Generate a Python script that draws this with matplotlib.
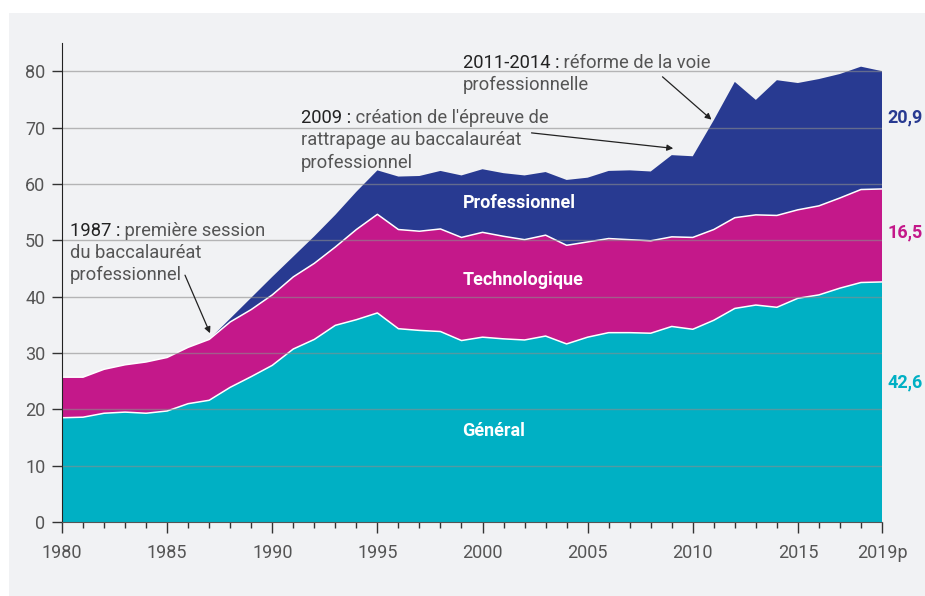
import numpy as np
import matplotlib
matplotlib.use("Agg")
import matplotlib.pyplot as plt
from matplotlib.patches import Rectangle

# data
years = list(range(1980, 2020))
general = [18.5, 18.6, 19.3, 19.5, 19.3, 19.7, 21.0, 21.6, 23.9, 25.8,
           27.8, 30.7, 32.4, 34.9, 35.9, 37.1, 34.3, 34.0, 33.8, 32.2,
           32.8, 32.5, 32.3, 33.0, 31.6, 32.8, 33.6, 33.6, 33.5, 34.7,
           34.2, 35.8, 37.9, 38.5, 38.1, 39.7, 40.3, 41.5, 42.5, 42.6]
technologique = [7.2, 7.1, 7.8, 8.4, 9.1, 9.5, 10.0, 10.8, 11.6, 11.9,
                 12.5, 12.8, 13.5, 13.9, 16.0, 17.5, 17.6, 17.6, 18.2, 18.3,
                 18.6, 18.2, 17.8, 17.9, 17.5, 16.9, 16.7, 16.5, 16.4, 15.9,
                 16.3, 16.1, 16.1, 16.0, 16.3, 15.7, 15.8, 16.0, 16.5, 16.5]
professionnel = [0, 0, 0, 0, 0, 0, 0, 0, 0.6, 2.1,
                 3.2, 3.6, 4.8, 5.7, 6.7, 7.8, 9.4, 9.8, 10.3, 11.0,
                 11.2, 11.2, 11.4, 11.2, 11.6, 11.4, 12.0, 12.3, 12.3, 14.5,
                 14.4, 19.4, 24.1, 20.4, 24.0, 22.5, 22.5, 22.0, 21.8, 20.9]
series_names = ["Général", "Technologique", "Professionnel"]
last_labels = ["42,6", "16,5", "20,9"]
xtick_years = [1980, 1985, 1990, 1995, 2000, 2005, 2010, 2015, 2019]
xtick_labels = ["1980", "1985", "1990", "1995", "2000", "2005", "2010", "2015", "2019p"]

colors = ["#00b0c4", "#c4188a", "#283a91"]
bg = "#f1f2f4"

plt.rcParams["font.family"] = ["Roboto", "DejaVu Sans"]

fig = plt.figure(figsize=(9.25, 5.96), dpi=100)
fig.patch.set_facecolor("white")
fig.patches.append(Rectangle((9 / 925, 0), 1, 1 - 13 / 596, transform=fig.transFigure,
                             facecolor=bg, edgecolor="none", zorder=-10))

ax = fig.add_axes([62 / 925, 74 / 596, 820 / 925, 479 / 596])
ax.set_facecolor(bg)

x = np.array(years)
stack = np.vstack([general, technologique, professionnel])
ax.stackplot(x, stack, colors=colors, edgecolor="none", zorder=2)
tops = np.cumsum(stack, axis=0)
for row in tops[:2]:
    ax.plot(x, row, color="white", lw=1.1, zorder=3)

ax.set_xlim(1980, 2019)
ax.set_ylim(0, 85)
ax.set_yticks(range(0, 90, 10))
ax.set_xticks(xtick_years)
ax.set_xticklabels(xtick_labels)
ax.set_xticks(years, minor=True)

for v in range(10, 90, 10):
    ax.axhline(v, color="#8c8c8c", lw=1.0, alpha=0.6, zorder=4)

for s in ["top", "right"]:
    ax.spines[s].set_visible(False)
ax.spines["left"].set_color("#222222")
ax.spines["bottom"].set_color("#555555")
ax.spines["left"].set_zorder(5)
ax.spines["bottom"].set_zorder(5)

ax.tick_params(axis="y", length=7, width=1, color="#333333", pad=5,
               labelsize=13, labelcolor="#555555")
ax.tick_params(axis="x", which="major", length=8, width=1, color="#333333", pad=8,
               labelsize=13, labelcolor="#555555")
ax.tick_params(axis="x", which="minor", length=4, width=1, color="#333333")

# labels inside areas
ax.text(1999.05, 56.6, series_names[2], color="white", fontsize=13,
        fontweight="bold", va="center", ha="left", zorder=6)
ax.text(1999.05, 42.9, series_names[1], color="white", fontsize=13,
        fontweight="bold", va="center", ha="left", zorder=6)
ax.text(1999.05, 16.1, series_names[0], color="white", fontsize=13,
        fontweight="bold", va="center", ha="left", zorder=6)

# values at the right end
label_y = [24.7, 51.3, 71.8]
for lab, yy, c in zip(last_labels, label_y, colors):
    ax.text(2019.25, yy, lab, color=c, fontsize=13, fontweight="bold",
            va="center", ha="left", clip_on=False)

# annotations: dark heading, grey rest, one text per line
notes = [
    (1980.38, 53.3, "1987 :", [" première session", "du baccalauréat", "professionnel"],
     (1985.85, 43.8), (1987.04, 33.5)),
    (1991.35, 73.2, "2009 :", [" création de l'épreuve de", "rattrapage au baccalauréat",
                               "professionnel"],
     (2002.33, 69.05), (2009.07, 66.3)),
    (1999.05, 83.1, "2011-2014 :", [" réforme de la voie", "professionnelle"],
     (2008.56, 79.0), (2010.89, 71.4)),
]
line_step = 3.9
fs = 13.2
for tx, ty, head, lines, a0, a1 in notes:
    h = ax.text(tx, ty, head, color="#222222", fontsize=fs, va="top", ha="left", zorder=8)
    ax.annotate(lines[0], xy=(1, 0), xycoords=h, color="#555555", fontsize=fs,
                va="bottom", ha="left", zorder=8)
    for i, ln in enumerate(lines[1:], start=1):
        ax.text(tx, ty - i * line_step, ln, color="#555555", fontsize=fs,
                va="top", ha="left", zorder=8)
    ax.annotate("", xy=a1, xytext=a0,
                arrowprops=dict(arrowstyle="-|>", color="#222222", lw=0.9,
                                mutation_scale=9, shrinkA=0, shrinkB=0),
                zorder=8)

fig.savefig("out.png", dpi=100, facecolor=fig.get_facecolor())
